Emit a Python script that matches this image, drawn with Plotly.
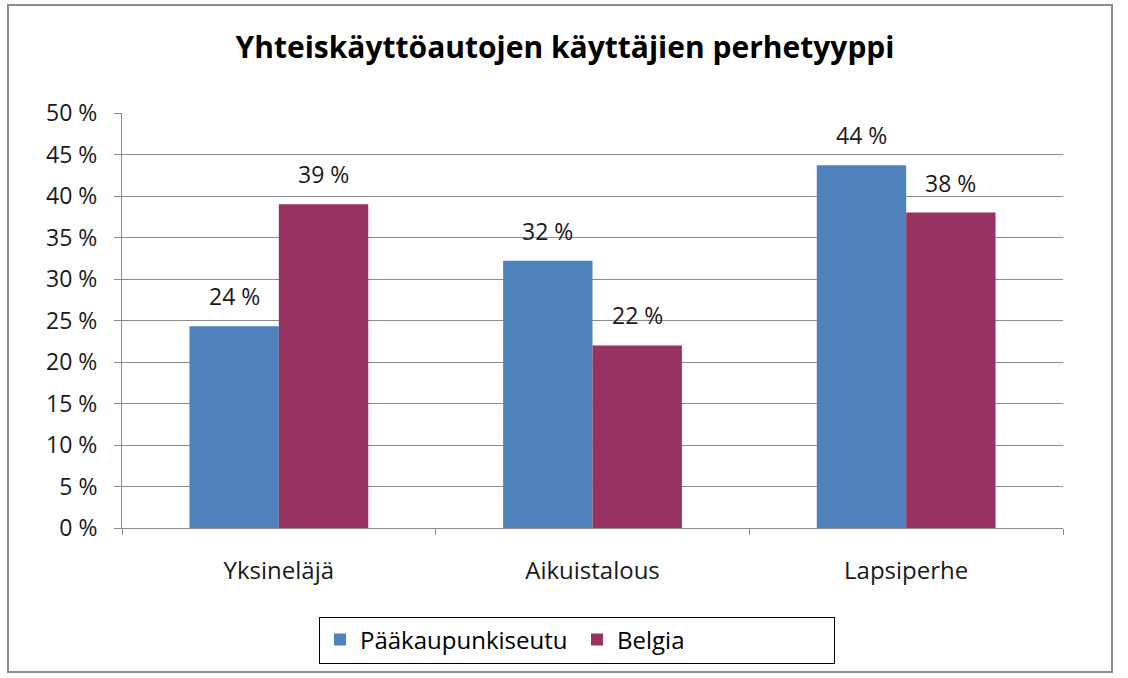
import plotly.graph_objects as go

categories = ["Yksineläjä", "Aikuistalous", "Lapsiperhe"]
series_names = ["Pääkaupunkiseutu", "Belgia"]
paakaupunkiseutu = [24.3, 32.2, 43.7]
belgia = [39.0, 22.0, 38.0]
y_ticks = [0, 5, 10, 15, 20, 25, 30, 35, 40, 45, 50]
y_tick_labels = [f"{v} %" for v in y_ticks]

colors = ["#4F81BD", "#983262"]
FONT = "Open Sans"
TXT = "#1a1a1a"

W, H = 1128, 678
L, R, T, B = 122, 65, 113, 150
pw, ph = W - L - R, H - T - B
BARGAP = 0.43
bar_px = pw / len(categories) * (1 - BARGAP) / 2

fig = go.Figure()
annotations = []
for i, (name, vals, col) in enumerate(zip(series_names, [paakaupunkiseutu, belgia], colors)):
    fig.add_trace(go.Bar(
        x=categories, y=vals, name=name, marker=dict(color=col, line=dict(width=0)),
    ))
    shift = (i - 0.5) * bar_px
    for c, v in zip(categories, vals):
        annotations.append(dict(x=c, y=v, xref="x", yref="y", text=f"{round(v)} %",
                                showarrow=False, xshift=shift, yshift=12, yanchor="bottom",
                                font=dict(family=FONT, size=23, color=TXT)))

def px_x(px):
    return (px - L) / pw

def px_y(py):
    return (H - B - py) / ph

fig.update_layout(
    width=W, height=H,
    margin=dict(l=L, r=R, t=T, b=B),
    paper_bgcolor="white", plot_bgcolor="white",
    barmode="group", bargap=BARGAP, bargroupgap=0,
    title=dict(text="<b>Yhteiskäyttöautojen käyttäjien perhetyyppi</b>",
               x=565 / W, xref="container", xanchor="center",
               y=1 - 47 / H, yref="container", yanchor="middle",
               font=dict(family=FONT, size=30, color="black")),
    font=dict(family=FONT, size=23, color=TXT),
    showlegend=True,
    legend=dict(orientation="h", x=px_x(577), xanchor="center", y=px_y(640), yanchor="middle",
                bordercolor="black", borderwidth=1, bgcolor="white",
                font=dict(family=FONT, size=24, color="black"),
                entrywidth=212, itemwidth=30),
    xaxis=dict(type="category", tickson="boundaries", ticks="outside", ticklen=6,
               tickcolor="#8c8c8c", showline=True, linecolor="#8c8c8c", linewidth=1,
               showgrid=False, tickfont=dict(family=FONT, size=24, color=TXT),
               ticklabelstandoff=21),
    yaxis=dict(range=[0, 50], tickvals=y_ticks, ticktext=y_tick_labels,
               ticks="outside", ticklen=7, tickcolor="#8c8c8c",
               showline=True, linecolor="#8c8c8c", linewidth=1,
               showgrid=True, gridcolor="#8c8c8c", gridwidth=1,
               zeroline=False, tickfont=dict(family=FONT, size=23, color=TXT),
               ticklabelstandoff=12),
    annotations=annotations,
    shapes=[dict(type="rect", xref="paper", yref="paper",
                 x0=px_x(8), x1=px_x(1112), y0=px_y(672), y1=px_y(5),
                 line=dict(color="#8c8c8c", width=2), layer="below")],
)

fig.write_html("out.html")
